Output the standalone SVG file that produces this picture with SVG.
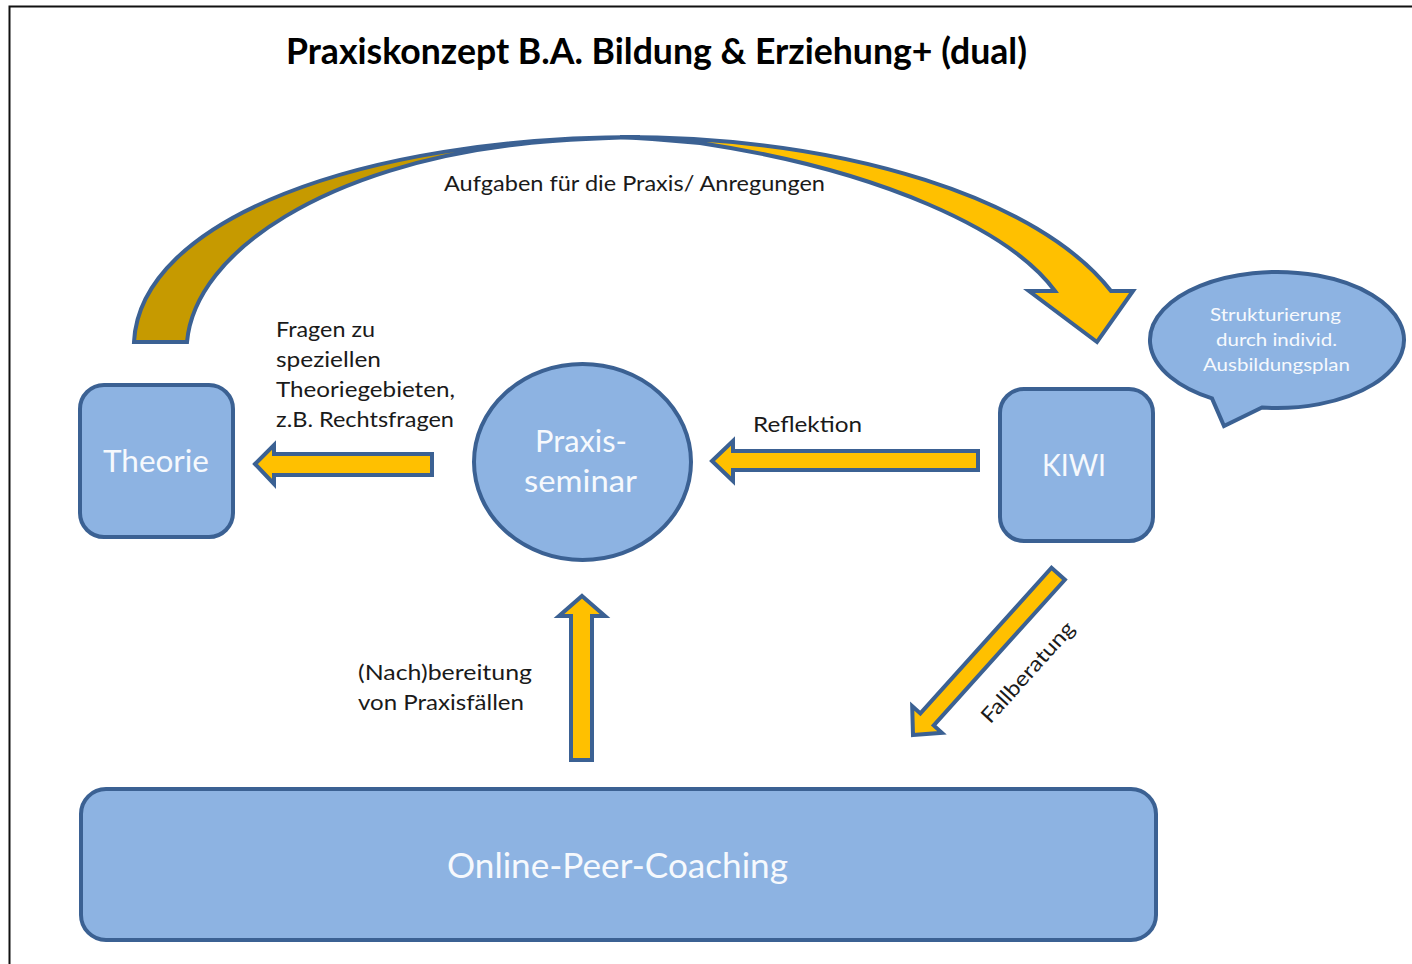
<svg xmlns="http://www.w3.org/2000/svg" width="1412" height="964" viewBox="0 0 1412 964">
  <style>
    .node { fill: #8DB3E2; stroke: #3B6193; stroke-width: 4; }
    .arrow { fill: #FFC000; stroke: #3B6193; stroke-width: 4; stroke-linejoin: miter; }
    .back { fill: #C69A00; stroke: #3B6193; stroke-width: 4; stroke-linejoin: miter; }
    .lbl { font-family: Lato, "Liberation Sans", sans-serif; font-size: 21px; fill: #1A1A1A; }
    .ntx { font-family: Lato, "Liberation Sans", sans-serif; font-size: 31px; fill: #F6F9FD; }
    .ctx { font-family: Lato, "Liberation Sans", sans-serif; font-size: 18px; fill: #F6F9FD; }
    .title { font-family: Lato, "Liberation Sans", sans-serif; font-size: 36px; font-weight: bold; fill: #000000; }
  </style>
  <rect width="1412" height="964" fill="#FFFFFF"/>
  <path d="M9.5,964 V6.5 H1412" fill="none" stroke="#111111" stroke-width="2"/>
  <text class="title" x="286" y="64" textLength="741" lengthAdjust="spacingAndGlyphs">Praxiskonzept B.A. Bildung &amp; Erziehung+ (dual)</text>

  <g id="connectors">
    <g id="curved-arrow">
      <path class="back" d="M134,342 C140,220 360,137 640,137 Q560,139 521,144 C330,165 195,250 187,342 Z"/>
      <path class="arrow" d="M620,137 C850,137 1040,200 1111,291 L1133,291 L1097,342 L1029,291 L1055,291 C1010,230 880,170 700,143 Q660,139 620,137 Z"/>
    </g>
    <path id="arrow-theorie" class="arrow" d="M255,464 L274,445 L274,454 L432,454 L432,475 L274,475 L274,484 Z"/>
    <path id="arrow-reflektion" class="arrow" d="M712,461 L733,441 L733,451 L978,451 L978,470 L733,470 L733,481 Z"/>
    <path id="arrow-up" class="arrow" d="M582,596 L605,616 L592,616 L592,760 L571,760 L571,616 L559,616 Z"/>
    <path id="arrow-fall" class="arrow" transform="translate(913,735) rotate(132)" d="M0,0 L-21,-20 L-21,-9 L-217,-9 L-217,9 L-21,9 L-21,20 Z"/>
  </g>

  <text class="lbl" x="444" y="191" textLength="381" lengthAdjust="spacingAndGlyphs">Aufgaben für die Praxis/ Anregungen</text>
  <text class="lbl" x="276" y="337" textLength="99" lengthAdjust="spacingAndGlyphs">Fragen zu</text>
  <text class="lbl" x="276" y="367" textLength="105" lengthAdjust="spacingAndGlyphs">speziellen</text>
  <text class="lbl" x="276" y="397" textLength="179" lengthAdjust="spacingAndGlyphs">Theoriegebieten,</text>
  <text class="lbl" x="276" y="427" textLength="178" lengthAdjust="spacingAndGlyphs">z.B. Rechtsfragen</text>
  <text class="lbl" x="753" y="432" textLength="109" lengthAdjust="spacingAndGlyphs">Reflektion</text>
  <text class="lbl" x="358" y="680" textLength="174" lengthAdjust="spacingAndGlyphs">(Nach)bereitung</text>
  <text class="lbl" x="358" y="710" textLength="166" lengthAdjust="spacingAndGlyphs">von Praxisfällen</text>
  <text class="lbl" transform="translate(1033,677) rotate(-48)" x="-64" y="0" textLength="128" lengthAdjust="spacingAndGlyphs">Fallberatung</text>

  <g id="theorie">
    <rect class="node" x="80" y="385" width="153" height="152" rx="24"/>
    <text class="ntx" x="103" y="472" textLength="106" lengthAdjust="spacingAndGlyphs">Theorie</text>
  </g>
  <g id="praxisseminar">
    <ellipse class="node" cx="582.5" cy="462" rx="108.5" ry="98"/>
    <text class="ntx" x="535" y="452" textLength="92" lengthAdjust="spacingAndGlyphs">Praxis-</text>
    <text class="ntx" x="524" y="492" textLength="113" lengthAdjust="spacingAndGlyphs">seminar</text>
  </g>
  <g id="kiwi">
    <rect class="node" x="1000" y="389" width="153" height="152" rx="24"/>
    <text class="ntx" x="1042" y="476" textLength="64" lengthAdjust="spacingAndGlyphs">KIWI</text>
  </g>
  <g id="callout">
    <path class="node" d="M1212,398.4 A127,68 0 1 1 1262,407.5 L1224,426 Z"/>
    <text class="ctx" x="1210" y="321" textLength="131" lengthAdjust="spacingAndGlyphs">Strukturierung</text>
    <text class="ctx" x="1216" y="346" textLength="121" lengthAdjust="spacingAndGlyphs">durch individ.</text>
    <text class="ctx" x="1203" y="371" textLength="147" lengthAdjust="spacingAndGlyphs">Ausbildungsplan</text>
  </g>
  <g id="online-peer-coaching">
    <rect class="node" x="81" y="789" width="1075" height="151" rx="25"/>
    <text class="ntx" style="font-size:34px" x="447" y="878" textLength="341" lengthAdjust="spacingAndGlyphs">Online-Peer-Coaching</text>
  </g>
</svg>
